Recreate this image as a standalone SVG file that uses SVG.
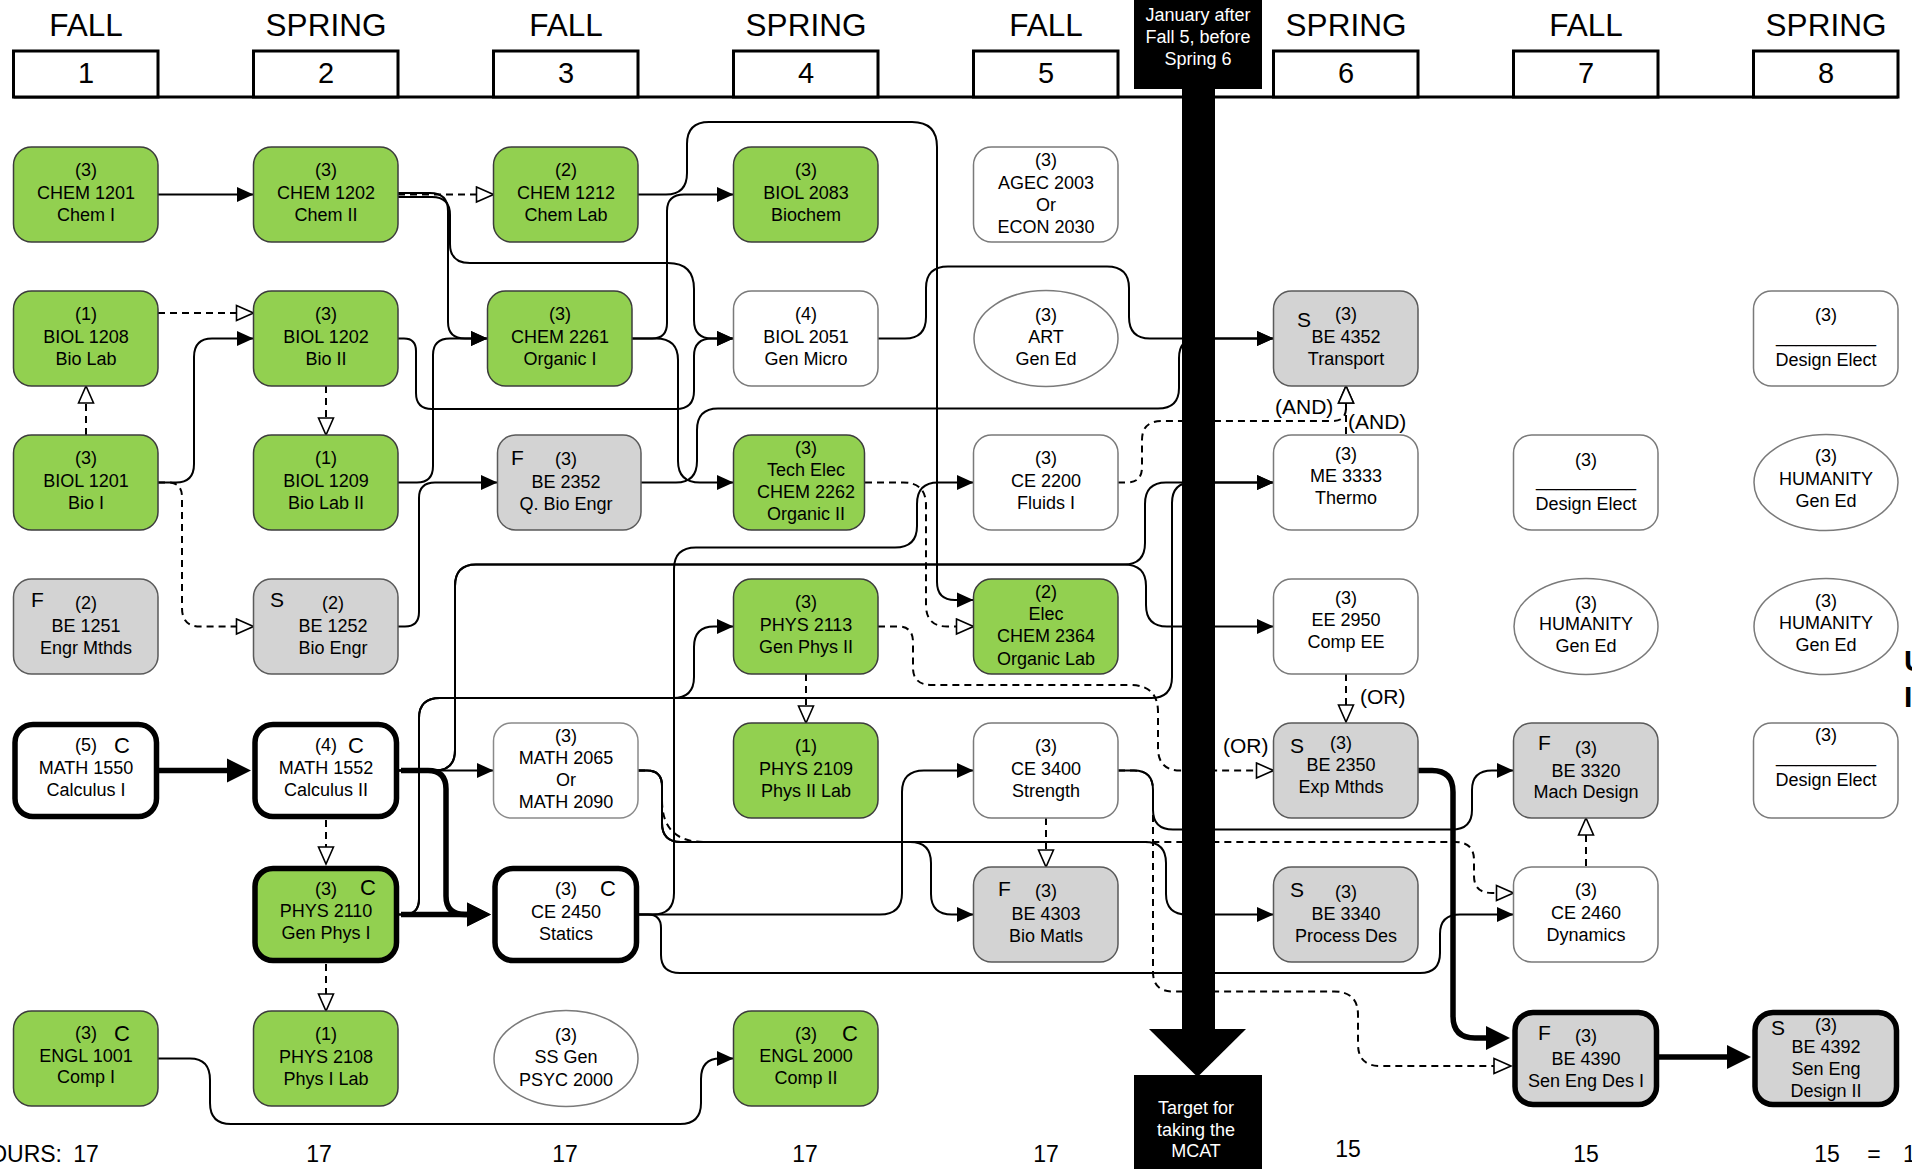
<svg xmlns="http://www.w3.org/2000/svg" width="1912" height="1169" viewBox="0 0 1912 1169">
<defs>
<style>
text{font-family:"Liberation Sans",Arial,Helvetica,sans-serif;fill:#000}
.t{font-size:18px;text-anchor:middle}
.l{font-size:21px}
.cc{font-size:22px;text-anchor:middle}
.hd{font-size:31.5px;text-anchor:middle}
.num{font-size:29px;text-anchor:middle}
.ft{font-size:23px;text-anchor:middle}
.lb{font-size:21px}
.wt{font-size:18px;text-anchor:middle;fill:#fff}
.edge{font-size:30px;font-weight:bold}
.g{fill:#92D050;stroke:#3c3c3c;stroke-width:1.5}
.w{fill:#fff;stroke:#7a7a7a;stroke-width:1.5}
.s{fill:#D3D3D3;stroke:#5a5a5a;stroke-width:1.5}
.k{stroke:#000;stroke-width:5.5}
.hb{fill:#fff;stroke:#000;stroke-width:3}
.c{fill:none;stroke:#000;stroke-width:2;marker-end:url(#a)}
.d{fill:none;stroke:#000;stroke-width:2;stroke-dasharray:7 5;marker-end:url(#o)}
.h{fill:none;stroke:#000;stroke-width:5.5;marker-end:url(#t)}
</style>
<marker id="a" markerUnits="userSpaceOnUse" markerWidth="17" markerHeight="16" viewBox="0 0 17 16" refX="16.5" refY="8" orient="auto"><path d="M0,0.5 L16.5,8 L0,15.5 z" fill="#000"/></marker>
<marker id="o" markerUnits="userSpaceOnUse" markerWidth="20" markerHeight="18" viewBox="0 0 20 18" refX="18.5" refY="9" orient="auto"><path d="M1.5,1.5 L18.5,9 L1.5,16.5 z" fill="#fff" stroke="#000" stroke-width="1.6"/></marker>
<marker id="t" markerUnits="userSpaceOnUse" markerWidth="26" markerHeight="26" viewBox="0 0 26 26" refX="14" refY="13" orient="auto"><path d="M0,1 L24,13 L0,25 z" fill="#000"/></marker>
</defs>
<rect width="1912" height="1169" fill="#fff"/>

<g id="header">
<line x1="13.5" y1="97" x2="1898" y2="97" stroke="#000" stroke-width="3"/>
<rect class="hb" x="13.5" y="51" width="144.5" height="46"/>
<rect class="hb" x="253.5" y="51" width="144.5" height="46"/>
<rect class="hb" x="493.5" y="51" width="144.5" height="46"/>
<rect class="hb" x="733.5" y="51" width="144.5" height="46"/>
<rect class="hb" x="973.5" y="51" width="144.5" height="46"/>
<rect class="hb" x="1273.5" y="51" width="144.5" height="46"/>
<rect class="hb" x="1513.5" y="51" width="144.5" height="46"/>
<rect class="hb" x="1753.5" y="51" width="144.5" height="46"/>
<text class="hd" x="86" y="36">FALL</text>
<text class="hd" x="326" y="36">SPRING</text>
<text class="hd" x="566" y="36">FALL</text>
<text class="hd" x="806" y="36">SPRING</text>
<text class="hd" x="1046" y="36">FALL</text>
<text class="hd" x="1346" y="36">SPRING</text>
<text class="hd" x="1586" y="36">FALL</text>
<text class="hd" x="1826" y="36">SPRING</text>
<text class="num" x="86" y="83">1</text>
<text class="num" x="326" y="83">2</text>
<text class="num" x="566" y="83">3</text>
<text class="num" x="806" y="83">4</text>
<text class="num" x="1046" y="83">5</text>
<text class="num" x="1346" y="83">6</text>
<text class="num" x="1586" y="83">7</text>
<text class="num" x="1826" y="83">8</text>
</g>

<g id="connectors">
<path class="c" d="M158,194.5 H253.5"/>
<path class="c" d="M398,193 H430 Q448,193 448,211 V322 Q448,338.5 465,338.5 H487.5"/>
<path class="c" d="M398,197 H432 Q450,197 450,215 V244 Q450,263 470,263 H668 Q694,263 694,289 V320 Q694,338.5 712,338.5 H733.5"/>
<path class="c" d="M638,194.5 H666 Q687,194.5 687,173 V144 Q687,122 709,122 H912 Q937,122 937,147 V582 Q937,600 955,600 H973.5"/>
<path class="c" d="M632,338.5 H652 Q667,338.5 667,323 V211 Q667,194.5 684,194.5 H733.5"/>
<path class="c" d="M632,338.5 H656 Q678,338.5 678,360 V461 Q678,482.5 700,482.5 H733.5"/>
<path class="c" d="M398,338.5 H404 Q416,338.5 416,351 V393 Q416,409 432,409 H676 Q694,409 694,391 V356 Q694,338.5 712,338.5 H733.5"/>
<path class="c" d="M398,482.5 H417 Q433,482.5 433,466 V355 Q433,338.5 450,338.5 H487.5"/>
<path class="c" d="M158,482.5 H176 Q194,482.5 194,464 V357 Q194,338.5 212,338.5 H253.5"/>
<path class="c" d="M398,626.5 H405 Q419,626.5 419,612 V498 Q419,482.5 435,482.5 H497.5"/>
<path class="c" d="M641,482.5 H676 Q697,482.5 697,461 V430 Q697,408.5 718,408.5 H1158 Q1179,408.5 1179,388 V358 Q1179,338.5 1198,338.5 H1273.5"/>
<path class="c" d="M878,338.5 H905 Q926,338.5 926,317 V288 Q926,266.5 948,266.5 H1107 Q1129,266.5 1129,288 V317 Q1129,338.5 1150,338.5 H1273.5"/>
<path class="c" d="M638,914.5 H653 Q674,914.5 674,893 V569 Q674,547.5 696,547.5 H895 Q917,547.5 917,526 V504 Q917,482.5 938,482.5 H973.5"/>
<path class="c" d="M638,914.5 H880 Q902,914.5 902,893 V792 Q902,770.5 924,770.5 H973.5"/>
<path class="c" d="M638,914.5 H648 Q661,914.5 661,928 V955 Q661,973 680,973 H1420 Q1440,973 1440,953 V934 Q1440,914.5 1460,914.5 H1513.5"/>
<path class="c" d="M398,770.5 H493.5"/>
<path class="c" d="M398,914.5 H404 Q419,914.5 419,899 V718 Q419,698 440,698 H673 Q694,698 694,677 V647 Q694,626.5 714,626.5 H733.5"/>
<path class="c" d="M398,914.5 H404 Q419,914.5 419,899 V718 Q419,698 440,698 H1151 Q1172,698 1172,677 V503 Q1172,482.5 1192,482.5 H1273.5"/>
<path class="c" d="M398,770.5 H435 Q455,770.5 455,750 V586 Q455,564.5 476,564.5 H1124 Q1145,564.5 1145,543 V504 Q1145,482.5 1166,482.5 H1273.5"/>
<path class="c" d="M398,770.5 H435 Q455,770.5 455,750 V586 Q455,564.5 476,564.5 H1124 Q1146,564.5 1146,586 V605 Q1146,626.5 1167,626.5 H1273.5"/>
<path class="d" d="M638,770.5 H647 Q662,770.5 662,786 V800 Q662,842 704,842 H1455 Q1474,842 1474,860 V876 Q1474,893 1492,893 H1513.5"/>
<path class="c" d="M638,770.5 H647 Q662,770.5 662,786 V823 Q662,842 681,842 H910 Q931,842 931,863 V894 Q931,914.5 952,914.5 H973.5"/>
<path class="c" d="M638,770.5 H647 Q662,770.5 662,786 V823 Q662,842 681,842 H1145 Q1166,842 1166,863 V894 Q1166,914.5 1187,914.5 H1273.5"/>
<path class="d" d="M1118,770.5 H1134 Q1153,770.5 1153,790 V972 Q1153,991.5 1173,991.5 H1334 Q1358,991.5 1358,1015 V1044 Q1358,1066 1380,1066 H1511"/>
<path class="c" d="M1118,770.5 H1134 Q1153,770.5 1153,790 V810 Q1153,829.5 1173,829.5 H1452 Q1472,829.5 1472,810 V790 Q1472,770.5 1492,770.5 H1513.5"/>
<path class="c" d="M158,1058.5 H190 Q210,1058.5 210,1080 V1103 Q210,1124 231,1124 H680 Q701,1124 701,1103 V1079 Q701,1058.5 720,1058.5 H733.5"/>
<path class="d" d="M398,194.5 H493.5"/>
<path class="d" d="M158,313 H253.5"/>
<path class="d" d="M86,435 V386"/>
<path class="d" d="M158,482.5 H168 Q182,482.5 182,497 V608 Q182,626.5 200,626.5 H253.5"/>
<path class="d" d="M326,386 V435"/>
<path class="d" d="M326,820 V864"/>
<path class="d" d="M326,964 V1011"/>
<path class="d" d="M865,482.5 H903 Q926,482.5 926,505 V605 Q926,626.5 947,626.5 H973.5"/>
<path class="d" d="M806,674 V723"/>
<path class="d" d="M878,626.5 H898 Q913,626.5 913,642 V668 Q913,685 932,685 H1130 Q1158,685 1158,712 V748 Q1158,770.5 1180,770.5 H1273.5"/>
<path class="d" d="M1346,674 V722"/>
<path class="d" d="M1118,482.5 H1127 Q1142,482.5 1142,467 V440 Q1142,421 1162,421 H1333 Q1346,421 1346,408 V386"/>
<path class="d" d="M1346,434 V386"/>
<path class="d" d="M1046,818 V867"/>
<path class="d" d="M1586,866 V818"/>
<path class="h" d="M158,770.5 H241"/>
<path class="h" d="M401,770.5 H428 Q446,770.5 446,789 V896 Q446,914.5 465,914.5 H481"/>
<path class="h" d="M401,914.5 H481"/>
<path class="h" d="M1418,770.5 H1432 Q1453,770.5 1453,792 V1016 Q1453,1038 1475,1038 H1500"/>
<path class="h" d="M1659,1057 H1741"/>
<text class="lb" x="1275" y="414">(AND)</text>
<text class="lb" x="1348" y="429">(AND)</text>
<text class="lb" x="1360" y="704">(OR)</text>
<text class="lb" x="1223" y="753">(OR)</text>
</g>

<g id="chem1201"><rect class="g" x="13.5" y="147" width="144.5" height="95" rx="18"/><text class="t"><tspan x="86" y="176">(3)</tspan><tspan x="86" y="199">CHEM 1201</tspan><tspan x="86" y="221">Chem I</tspan></text></g>
<g id="biol1208"><rect class="g" x="13.5" y="291" width="144.5" height="95" rx="18"/><text class="t"><tspan x="86" y="320">(1)</tspan><tspan x="86" y="343">BIOL 1208</tspan><tspan x="86" y="365">Bio Lab</tspan></text></g>
<g id="biol1201"><rect class="g" x="13.5" y="435" width="144.5" height="95" rx="18"/><text class="t"><tspan x="86" y="464">(3)</tspan><tspan x="86" y="487">BIOL 1201</tspan><tspan x="86" y="509">Bio I</tspan></text></g>
<g id="be1251"><rect class="s" x="13.5" y="579" width="144.5" height="95" rx="18"/><text class="l" x="31" y="607">F</text><text class="t"><tspan x="86" y="609">(2)</tspan><tspan x="86" y="632">BE 1251</tspan><tspan x="86" y="654">Engr Mthds</tspan></text></g>
<g id="math1550"><rect class="w k" x="15" y="724.5" width="141.5" height="92" rx="18"/><text class="t" x="86" y="751">(5)</text><text class="cc" x="122" y="753">C</text><text class="t"><tspan x="86" y="774">MATH 1550</tspan><tspan x="86" y="796">Calculus I</tspan></text></g>
<g id="engl1001"><rect class="g" x="13.5" y="1011" width="144.5" height="95" rx="18"/><text class="t" x="86" y="1039">(3)</text><text class="cc" x="122" y="1041">C</text><text class="t"><tspan x="86" y="1062">ENGL 1001</tspan><tspan x="86" y="1083">Comp I</tspan></text></g>

<g id="chem1202"><rect class="g" x="253.5" y="147" width="144.5" height="95" rx="18"/><text class="t"><tspan x="326" y="176">(3)</tspan><tspan x="326" y="199">CHEM 1202</tspan><tspan x="326" y="221">Chem II</tspan></text></g>
<g id="biol1202"><rect class="g" x="253.5" y="291" width="144.5" height="95" rx="18"/><text class="t"><tspan x="326" y="320">(3)</tspan><tspan x="326" y="343">BIOL 1202</tspan><tspan x="326" y="365">Bio II</tspan></text></g>
<g id="biol1209"><rect class="g" x="253.5" y="435" width="144.5" height="95" rx="18"/><text class="t"><tspan x="326" y="464">(1)</tspan><tspan x="326" y="487">BIOL 1209</tspan><tspan x="326" y="509">Bio Lab II</tspan></text></g>
<g id="be1252"><rect class="s" x="253.5" y="579" width="144.5" height="95" rx="18"/><text class="l" x="270" y="607">S</text><text class="t"><tspan x="333" y="609">(2)</tspan><tspan x="333" y="632">BE 1252</tspan><tspan x="333" y="654">Bio Engr</tspan></text></g>
<g id="math1552"><rect class="w k" x="255" y="724.5" width="141.5" height="92" rx="18"/><text class="t" x="326" y="751">(4)</text><text class="cc" x="356" y="753">C</text><text class="t"><tspan x="326" y="774">MATH 1552</tspan><tspan x="326" y="796">Calculus II</tspan></text></g>
<g id="phys2110"><rect class="g k" x="255" y="868.5" width="141.5" height="92" rx="18"/><text class="t" x="326" y="895">(3)</text><text class="cc" x="368" y="895">C</text><text class="t"><tspan x="326" y="917">PHYS 2110</tspan><tspan x="326" y="939">Gen Phys I</tspan></text></g>
<g id="phys2108"><rect class="g" x="253.5" y="1011" width="144.5" height="95" rx="18"/><text class="t"><tspan x="326" y="1040">(1)</tspan><tspan x="326" y="1063">PHYS 2108</tspan><tspan x="326" y="1085">Phys I Lab</tspan></text></g>

<g id="chem1212"><rect class="g" x="493.5" y="147" width="144.5" height="95" rx="18"/><text class="t"><tspan x="566" y="176">(2)</tspan><tspan x="566" y="199">CHEM 1212</tspan><tspan x="566" y="221">Chem Lab</tspan></text></g>
<g id="chem2261"><rect class="g" x="487.5" y="291" width="144.5" height="95" rx="18"/><text class="t"><tspan x="560" y="320">(3)</tspan><tspan x="560" y="343">CHEM 2261</tspan><tspan x="560" y="365">Organic I</tspan></text></g>
<g id="be2352"><rect class="s" x="497.5" y="435" width="143.5" height="95" rx="18"/><text class="l" x="511" y="465">F</text><text class="t"><tspan x="566" y="465">(3)</tspan><tspan x="566" y="488">BE 2352</tspan><tspan x="566" y="510">Q. Bio Engr</tspan></text></g>
<g id="math2065"><rect class="w" x="493.5" y="723" width="144.5" height="95" rx="18" style="stroke:#8a8a8a"/><text class="t"><tspan x="566" y="742">(3)</tspan><tspan x="566" y="764">MATH 2065</tspan><tspan x="566" y="786">Or</tspan><tspan x="566" y="808">MATH 2090</tspan></text></g>
<g id="ce2450"><rect class="w k" x="495" y="868.5" width="141.5" height="92" rx="18"/><text class="t" x="566" y="895">(3)</text><text class="cc" x="608" y="896">C</text><text class="t"><tspan x="566" y="918">CE 2450</tspan><tspan x="566" y="940">Statics</tspan></text></g>
<g id="ssgen"><ellipse class="w" cx="566" cy="1058.5" rx="72" ry="48"/><text class="t"><tspan x="566" y="1041">(3)</tspan><tspan x="566" y="1063">SS Gen</tspan><tspan x="566" y="1086">PSYC 2000</tspan></text></g>

<g id="biol2083"><rect class="g" x="733.5" y="147" width="144.5" height="95" rx="18"/><text class="t"><tspan x="806" y="176">(3)</tspan><tspan x="806" y="199">BIOL 2083</tspan><tspan x="806" y="221">Biochem</tspan></text></g>
<g id="biol2051"><rect class="w" x="733.5" y="291" width="144.5" height="95" rx="18"/><text class="t"><tspan x="806" y="320">(4)</tspan><tspan x="806" y="343">BIOL 2051</tspan><tspan x="806" y="365">Gen Micro</tspan></text></g>
<g id="chem2262"><rect class="g" x="733.5" y="435" width="131" height="95" rx="18"/><text class="t"><tspan x="806" y="454">(3)</tspan><tspan x="806" y="476">Tech Elec</tspan><tspan x="806" y="498">CHEM 2262</tspan><tspan x="806" y="520">Organic II</tspan></text></g>
<g id="phys2113"><rect class="g" x="733.5" y="579" width="144.5" height="95" rx="18"/><text class="t"><tspan x="806" y="608">(3)</tspan><tspan x="806" y="631">PHYS 2113</tspan><tspan x="806" y="653">Gen Phys II</tspan></text></g>
<g id="phys2109"><rect class="g" x="733.5" y="723" width="144.5" height="95" rx="18"/><text class="t"><tspan x="806" y="752">(1)</tspan><tspan x="806" y="775">PHYS 2109</tspan><tspan x="806" y="797">Phys II Lab</tspan></text></g>
<g id="engl2000"><rect class="g" x="733.5" y="1011" width="144.5" height="95" rx="18"/><text class="t" x="806" y="1040">(3)</text><text class="cc" x="850" y="1041">C</text><text class="t"><tspan x="806" y="1062">ENGL 2000</tspan><tspan x="806" y="1084">Comp II</tspan></text></g>

<g id="agec"><rect class="w" x="973.5" y="147" width="144.5" height="95" rx="18"/><text class="t"><tspan x="1046" y="166">(3)</tspan><tspan x="1046" y="189">AGEC 2003</tspan><tspan x="1046" y="211">Or</tspan><tspan x="1046" y="233">ECON 2030</tspan></text></g>
<g id="art"><ellipse class="w" cx="1046" cy="338.5" rx="72" ry="48"/><text class="t"><tspan x="1046" y="321">(3)</tspan><tspan x="1046" y="343">ART</tspan><tspan x="1046" y="365">Gen Ed</tspan></text></g>
<g id="ce2200"><rect class="w" x="973.5" y="435" width="144.5" height="95" rx="18"/><text class="t"><tspan x="1046" y="464">(3)</tspan><tspan x="1046" y="487">CE 2200</tspan><tspan x="1046" y="509">Fluids I</tspan></text></g>
<g id="chem2364"><rect class="g" x="973.5" y="579" width="144.5" height="95" rx="18"/><text class="t"><tspan x="1046" y="598">(2)</tspan><tspan x="1046" y="620">Elec</tspan><tspan x="1046" y="642">CHEM 2364</tspan><tspan x="1046" y="665">Organic Lab</tspan></text></g>
<g id="ce3400"><rect class="w" x="973.5" y="723" width="144.5" height="95" rx="18"/><text class="t"><tspan x="1046" y="752">(3)</tspan><tspan x="1046" y="775">CE 3400</tspan><tspan x="1046" y="797">Strength</tspan></text></g>
<g id="be4303"><rect class="s" x="973.5" y="867" width="144.5" height="95" rx="18"/><text class="l" x="998" y="896">F</text><text class="t"><tspan x="1046" y="897">(3)</tspan><tspan x="1046" y="920">BE 4303</tspan><tspan x="1046" y="942">Bio Matls</tspan></text></g>

<g id="be4352"><rect class="s" x="1273.5" y="291" width="144.5" height="95" rx="18"/><text class="l" x="1297" y="327">S</text><text class="t"><tspan x="1346" y="320">(3)</tspan><tspan x="1346" y="343">BE 4352</tspan><tspan x="1346" y="365">Transport</tspan></text></g>
<g id="me3333"><rect class="w" x="1273.5" y="435" width="144.5" height="95" rx="18"/><text class="t"><tspan x="1346" y="460">(3)</tspan><tspan x="1346" y="482">ME 3333</tspan><tspan x="1346" y="504">Thermo</tspan></text></g>
<g id="ee2950"><rect class="w" x="1273.5" y="579" width="144.5" height="95" rx="18"/><text class="t"><tspan x="1346" y="604">(3)</tspan><tspan x="1346" y="626">EE 2950</tspan><tspan x="1346" y="648">Comp EE</tspan></text></g>
<g id="be2350"><rect class="s" x="1273.5" y="723" width="144.5" height="95" rx="18"/><text class="l" x="1290" y="753">S</text><text class="t"><tspan x="1341" y="749">(3)</tspan><tspan x="1341" y="771">BE 2350</tspan><tspan x="1341" y="793">Exp Mthds</tspan></text></g>
<g id="be3340"><rect class="s" x="1273.5" y="867" width="144.5" height="95" rx="18"/><text class="l" x="1290" y="897">S</text><text class="t"><tspan x="1346" y="898">(3)</tspan><tspan x="1346" y="920">BE 3340</tspan><tspan x="1346" y="942">Process Des</tspan></text></g>

<g id="design7"><rect class="w" x="1513.5" y="435" width="144.5" height="95" rx="18"/><text class="t"><tspan x="1586" y="466">(3)</tspan><tspan x="1586" y="486">__________</tspan><tspan x="1586" y="510">Design Elect</tspan></text></g>
<g id="hum7"><ellipse class="w" cx="1586" cy="626.5" rx="72" ry="48"/><text class="t"><tspan x="1586" y="609">(3)</tspan><tspan x="1586" y="630">HUMANITY</tspan><tspan x="1586" y="652">Gen Ed</tspan></text></g>
<g id="be3320"><rect class="s" x="1513.5" y="723" width="144.5" height="95" rx="18"/><text class="l" x="1538" y="750">F</text><text class="t"><tspan x="1586" y="754">(3)</tspan><tspan x="1586" y="777">BE 3320</tspan><tspan x="1586" y="798">Mach Design</tspan></text></g>
<g id="ce2460"><rect class="w" x="1513.5" y="867" width="144.5" height="95" rx="18"/><text class="t"><tspan x="1586" y="896">(3)</tspan><tspan x="1586" y="919">CE 2460</tspan><tspan x="1586" y="941">Dynamics</tspan></text></g>
<g id="be4390"><rect class="s k" x="1515" y="1012.5" width="141.5" height="92" rx="18"/><text class="l" x="1538" y="1040">F</text><text class="t"><tspan x="1586" y="1042">(3)</tspan><tspan x="1586" y="1065">BE 4390</tspan><tspan x="1586" y="1087">Sen Eng Des I</tspan></text></g>

<g id="design8a"><rect class="w" x="1753.5" y="291" width="144.5" height="95" rx="18"/><text class="t"><tspan x="1826" y="321">(3)</tspan><tspan x="1826" y="342">__________</tspan><tspan x="1826" y="366">Design Elect</tspan></text></g>
<g id="hum8a"><ellipse class="w" cx="1826" cy="482.5" rx="72" ry="48"/><text class="t"><tspan x="1826" y="462">(3)</tspan><tspan x="1826" y="485">HUMANITY</tspan><tspan x="1826" y="507">Gen Ed</tspan></text></g>
<g id="hum8b"><ellipse class="w" cx="1826" cy="626.5" rx="72" ry="48"/><text class="t"><tspan x="1826" y="607">(3)</tspan><tspan x="1826" y="629">HUMANITY</tspan><tspan x="1826" y="651">Gen Ed</tspan></text></g>
<g id="design8b"><rect class="w" x="1753.5" y="723" width="144.5" height="95" rx="18"/><text class="t"><tspan x="1826" y="741">(3)</tspan><tspan x="1826" y="762">__________</tspan><tspan x="1826" y="786">Design Elect</tspan></text></g>
<g id="be4392"><rect class="s k" x="1755" y="1012.5" width="141.5" height="92" rx="18"/><text class="l" x="1771" y="1035">S</text><text class="t"><tspan x="1826" y="1031">(3)</tspan><tspan x="1826" y="1053">BE 4392</tspan><tspan x="1826" y="1075">Sen Eng</tspan><tspan x="1826" y="1097">Design II</tspan></text></g>

<g id="mcat">
<rect x="1134" y="0" width="128" height="89" fill="#000"/>
<text class="wt"><tspan x="1198" y="21">January after</tspan><tspan x="1198" y="43">Fall 5, before</tspan><tspan x="1198" y="65">Spring 6</tspan></text>
<rect x="1182" y="88" width="33" height="943" fill="#000"/>
<polygon points="1149,1029 1246,1029 1197.5,1077" fill="#000"/>
<rect x="1134" y="1075" width="128" height="94" fill="#000"/>
<text class="wt"><tspan x="1196" y="1114">Target for</tspan><tspan x="1196" y="1136">taking the</tspan><tspan x="1196" y="1157">MCAT</tspan></text>
</g>

<g id="hours">
<text class="ft" x="62" y="1162" style="text-anchor:end">HOURS:</text>
<text class="ft" x="86" y="1162">17</text>
<text class="ft" x="319" y="1162">17</text>
<text class="ft" x="565" y="1162">17</text>
<text class="ft" x="805" y="1162">17</text>
<text class="ft" x="1046" y="1162">17</text>
<text class="ft" x="1348" y="1157">15</text>
<text class="ft" x="1586" y="1162">15</text>
<text class="ft" x="1827" y="1162">15</text>
<text class="ft" x="1874" y="1162">=</text>
<text class="ft" x="1903" y="1162" style="text-anchor:start">1</text>
<text class="edge" x="1904" y="671">U</text>
<text class="edge" x="1904" y="707">I</text>
</g>
</svg>
